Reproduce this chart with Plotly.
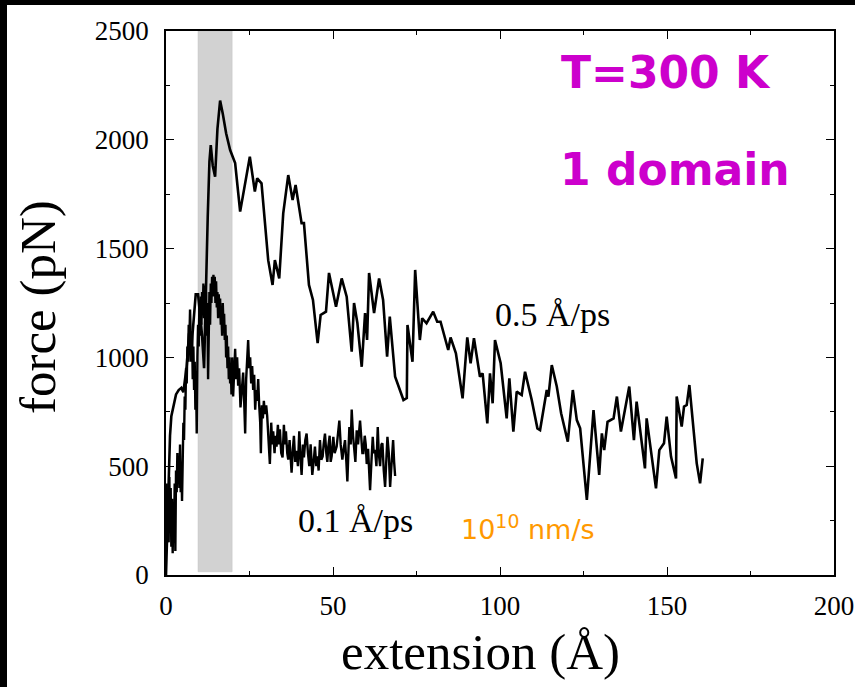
import plotly.graph_objects as go

# 0.5 A/ps trace
x_fast = [0.0, 0.4, 0.8, 1.2, 1.6, 2.2, 3.0, 3.8, 4.6, 5.2, 5.6, 6.2, 6.9, 7.4, 7.9, 8.4, 8.9, 9.6,
          10.2, 10.8, 11.4, 11.9, 12.5, 13.0, 13.4, 14.0, 14.7, 15.4, 16.2, 17.0, 18.0, 19.2, 20.7,
          22.2, 24.0, 25.1, 26.6, 27.3, 28.6, 30.6, 31.9, 32.6, 33.9, 35.1, 36.6, 37.9, 38.8, 40.6,
          41.3, 42.8, 44.0, 45.4, 46.3, 47.9, 48.8, 50.9, 52.6, 54.1, 55.6, 56.3, 57.3, 58.6, 59.6,
          60.2, 60.8, 62.3, 63.8, 65.0, 66.2, 67.0, 68.6, 69.5, 71.1, 72.1, 72.3, 73.8, 74.6, 76.0,
          76.7, 78.0, 80.0, 81.2, 82.2, 84.5, 85.2, 86.8, 88.8, 90.2, 91.2, 92.2, 94.0, 94.8, 96.2,
          97.0, 97.8, 98.5, 100.2, 102.0, 102.8, 104.0, 105.0, 106.5, 107.5, 109.5, 111.2, 112.0,
          114.0, 114.5, 115.5, 117.0, 118.3, 120.3, 121.8, 123.0, 124.0, 126.0, 128.0, 129.7, 130.5,
          131.2, 132.2, 134.0, 135.0, 136.2, 138.7, 140.1, 140.9, 143.4, 143.9, 146.7, 147.7, 149.1,
          149.9, 151.2, 152.7, 152.9, 154.4, 155.1, 155.9, 156.7, 158.9, 159.9, 160.7]
f_fast = [0, 250, 480, 640, 730, 780, 830, 850, 860, 840, 900, 960, 1110, 980, 1100, 1200, 1290, 1290,
          1200, 1100, 950, 1300, 1650, 1900, 1976, 1880, 1830, 2050, 2180, 2120, 2030, 1953, 1893,
          1670, 1820, 1922, 1762, 1823, 1800, 1447, 1333, 1447, 1363, 1662, 1838, 1723, 1792, 1617,
          1617, 1333, 1264, 1066, 1195, 1210, 1388, 1233, 1363, 1279, 1026, 1250, 1158, 957, 1204,
          1080, 1388, 1204, 1363, 1264, 1003, 1187, 911, 870, 804, 813, 1149, 980, 1402, 1080,
          1180, 1157, 1210, 1164, 1164, 1034, 1092, 1019, 812, 1092, 973, 1088, 911, 927, 697,
          927, 789, 1080, 973, 720, 904, 659, 843, 827, 934, 804, 674, 666,
          850, 820, 965, 866, 743, 613, 850, 712, 674, 345, 758, 460, 651,
          574, 704, 720, 820, 659, 866, 620, 797, 490, 720, 398, 574, 605,
          728, 544, 444, 820, 682, 774, 781, 873, 513, 421, 536]

# 0.1 A/ps trace
x_slow = [0.0, 0.2, 0.4, 0.6, 0.8, 1.0, 1.2, 1.4, 1.6, 1.8, 2.0, 2.2, 2.4, 2.6, 2.8, 3.0, 3.2, 3.4,
          3.6, 3.8, 4.0, 4.2, 4.4, 4.6, 4.8, 5.0, 5.2, 5.4, 5.6, 5.8, 6.0, 6.2, 6.4, 6.6, 6.8, 7.0,
          7.2, 7.4, 7.6, 7.8, 8.0, 8.2, 8.4, 8.6, 8.8, 9.0, 9.2, 9.4, 9.6, 9.8, 10.0, 10.2, 10.4,
          10.6, 10.8, 11.0, 11.2, 11.4, 11.6, 11.8, 12.0, 12.2, 12.4, 12.6, 12.8, 13.0, 13.2, 13.4,
          13.6, 13.8, 14.0, 14.2, 14.4, 14.6, 14.8, 15.0, 15.2, 15.4, 15.6, 15.8, 16.0, 16.2, 16.4,
          16.6, 16.8, 17.0, 17.2, 17.4, 17.6, 17.8, 18.0, 18.2, 18.4, 18.6, 18.8, 19.0, 19.2, 19.4,
          19.6, 19.8, 20.1, 20.4, 20.7, 21.0, 21.3, 21.6, 21.9, 22.3, 22.7, 23.1, 23.4, 23.7, 24.0,
          24.3, 24.6, 24.9, 25.2, 25.5, 25.8, 26.1, 26.4, 26.7, 27.0, 27.3, 27.6, 27.9, 28.2, 28.4,
          28.7, 29.0, 29.3, 29.6, 30.0, 30.3, 30.6, 31.1, 31.5, 31.8, 32.1, 32.5, 32.8, 33.1, 33.5,
          33.8, 34.1, 34.5, 34.9, 35.3, 35.6, 35.9, 36.3, 36.6, 37.0, 37.3, 37.6, 38.0, 38.3, 38.7,
          39.1, 39.5, 39.9, 40.2, 40.6, 41.0, 41.3, 41.7, 42.1, 42.5, 42.9, 43.3, 43.8, 44.2, 44.6,
          45.0, 45.3, 45.7, 46.1, 46.5, 46.9, 47.2, 47.6, 48.0, 48.3, 48.6, 49.0, 49.3, 49.6, 50.1,
          50.5, 51.1, 51.5, 51.9, 52.3, 52.8, 53.2, 53.6, 54.0, 54.3, 54.6, 54.9, 55.3, 55.6, 56.0,
          56.3, 56.7, 57.1, 57.5, 58.1, 58.5, 58.8, 59.1, 59.5, 59.8, 60.1, 60.5, 60.8, 61.1, 61.5,
          61.9, 62.2, 62.6, 63.0, 63.4, 63.7, 64.1, 64.5, 64.8, 65.2, 65.6, 66.0, 66.3, 66.7, 67.1,
          67.4, 67.6, 68.0, 68.3, 68.6]
f_slow = [250, 420, 180, 380, 150, 450, 230, 400, 130, 350, 100, 300, 160, 420, 110, 480, 380, 560,
          420, 520, 400, 600, 380, 520, 340, 560, 700, 620, 820, 760, 950, 880, 1050, 980, 1150, 1080,
          1220, 1100, 1000, 1120, 900, 1050, 850, 980, 760, 900, 650, 1000, 1150, 1050, 1250, 1100, 1280,
          1150, 1300, 1200, 1340, 1180, 1330, 1220, 1300, 1100, 1250, 900, 1200, 1300, 1150, 1340,
          1250, 1370, 1280, 1380, 1300, 1370, 1250, 1350, 1230, 1300, 1180, 1290, 1200, 1270, 1150,
          1200, 1100, 1250, 1150, 1200, 1080, 1150, 1000, 1100, 950, 1050, 900, 1000, 880, 960,
          830, 1000, 820, 950, 1040, 900, 1000, 870, 950, 770, 880, 930, 800, 650, 900,
          1040, 1080, 950, 1000, 880, 960, 850, 920, 760, 850, 800, 900, 780, 700, 560,
          780, 720, 800, 740, 780, 730, 650, 510, 700, 600, 660, 560, 640, 590, 690,
          600, 670, 560, 540, 690, 600, 660, 560, 530, 620, 520, 470, 580, 640, 520,
          570, 500, 660, 560, 460, 600, 540, 620, 650, 560, 500, 600, 460, 520, 590,
          500, 545, 480, 620, 530, 545, 600, 650, 560, 520, 590, 640, 520, 545, 635,
          560, 590, 660, 710, 600, 530, 580, 620, 520, 430, 560, 680, 600, 760, 640,
          600, 520, 665, 600, 710, 640, 560, 560, 640, 600, 510, 580, 460, 390, 520,
          635, 560, 575, 500, 680, 560, 500, 600, 605, 480, 405, 540, 635, 560, 405,
          480, 545, 620, 520, 455]

# shaded region (extension range, A)
band_x = [9.6, 19.8]
band_f = [15, 2500]

x_ticks = [0, 50, 100, 150, 200]
y_ticks = [0, 500, 1000, 1500, 2000, 2500]

fig = go.Figure()
fig.add_shape(type="rect", xref="x", yref="y", x0=band_x[0], x1=band_x[1], y0=band_f[0], y1=band_f[1],
              fillcolor="#d2d2d2", line=dict(color="#c0c0c0", width=0.5), layer="below")
fig.add_trace(go.Scatter(x=x_slow, y=f_slow, mode="lines", line=dict(color="black", width=2.4),
                         showlegend=False, hoverinfo="skip"))
fig.add_trace(go.Scatter(x=x_fast, y=f_fast, mode="lines", line=dict(color="black", width=2.6),
                         showlegend=False, hoverinfo="skip"))

serif = "Liberation Serif, Times New Roman, serif"
axis_common = dict(showline=True, linecolor="black", linewidth=1.5, mirror="allticks",
                   ticks="inside", ticklen=8, tickwidth=1.3, tickcolor="black",
                   showgrid=False, zeroline=False, automargin=False,
                   tickfont=dict(family=serif, size=27, color="black"))
fig.update_xaxes(range=[0, 200], tickvals=x_ticks, ticklabelstandoff=6,
                 minor=dict(ticks="inside", ticklen=4, dtick=25, tickcolor="black", tickwidth=1),
                 **axis_common)
fig.update_yaxes(range=[0, 2500], tickvals=y_ticks, ticklabelstandoff=10,
                 minor=dict(ticks="inside", ticklen=4, dtick=250, tickcolor="black", tickwidth=1),
                 **axis_common)

# black frame strips of the slide
fig.add_shape(type="rect", xref="paper", yref="paper", x0=-0.3, x1=1.1, y0=(575 - 5) / 544, y1=1.2,
              fillcolor="black", line=dict(width=0), layer="above")
fig.add_shape(type="rect", xref="paper", yref="paper", x0=-0.3, x1=(7 - 166) / 668, y0=-0.3, y1=1.2,
              fillcolor="black", line=dict(width=0), layer="above")

ann = [
    dict(x=115.6, y=1195, text="0.5 Å/ps", font=dict(family=serif, size=34, color="black")),
    dict(x=56.6, y=250, text="0.1 Å/ps", font=dict(family=serif, size=34, color="black")),
    dict(x=108.4, y=218, text="10<sup>10</sup> nm/s", font=dict(family="DejaVu Sans", size=27, color="#FF9900")),
    dict(x=149.6, y=2310, text="<b>T=300 K</b>", font=dict(family="DejaVu Sans", size=44, color="#CC00CC")),
    dict(x=152.3, y=1862, text="<b>1 domain</b>", font=dict(family="DejaVu Sans", size=44, color="#CC00CC")),
]
for a in ann:
    fig.add_annotation(xref="x", yref="y", showarrow=False, xanchor="center", yanchor="middle", **a)

fig.add_annotation(xref="paper", yref="paper", x=(480 - 166) / 668, y=(575 - 652) / 544,
                   text="extension (Å)", showarrow=False, xanchor="center", yanchor="middle",
                   font=dict(family=serif, size=51, color="black"))
fig.add_annotation(xref="paper", yref="paper", x=(38 - 166) / 668, y=(575 - 307) / 544,
                   text="force (pN)", showarrow=False, xanchor="center", yanchor="middle", textangle=-90,
                   font=dict(family=serif, size=51, color="black"))

fig.update_layout(width=855, height=687, margin=dict(l=166, r=21, t=31, b=112, autoexpand=False),
                  paper_bgcolor="white", plot_bgcolor="white")
fig.write_html("out.html")
